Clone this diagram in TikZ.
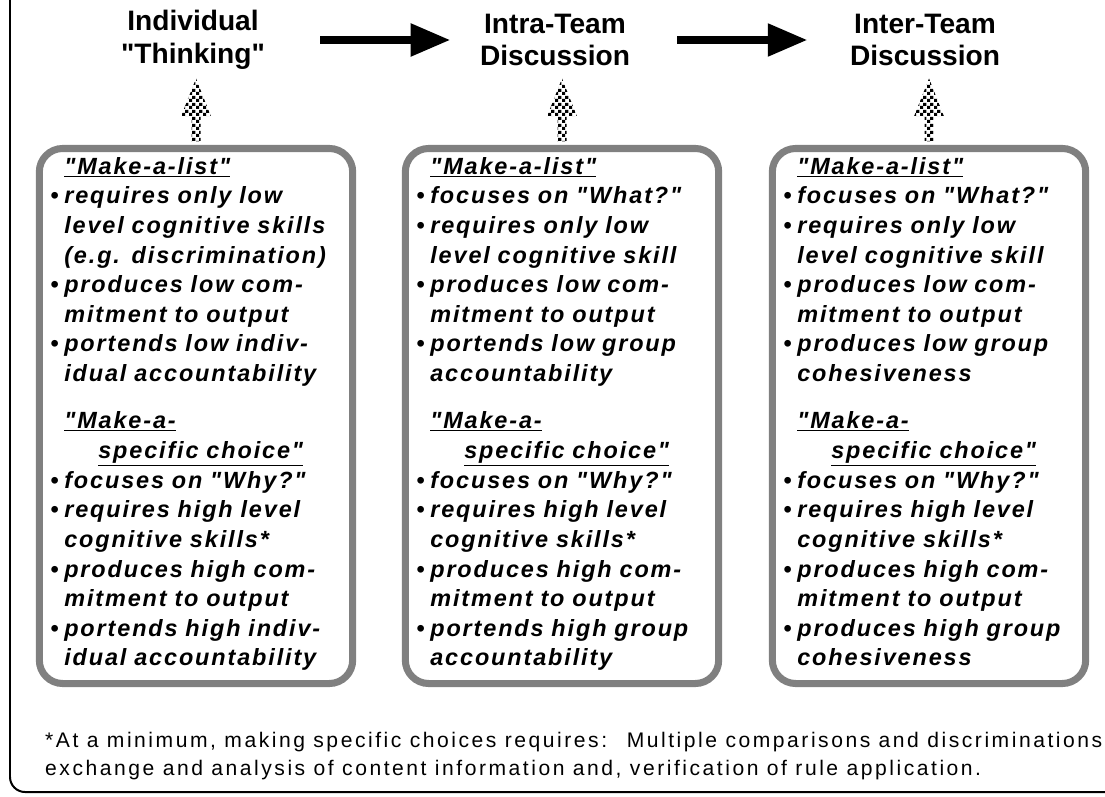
\documentclass[tikz,border=0pt]{standalone}
\usepackage{fontspec}
\setmainfont{Liberation Sans}
\newfontfamily\listfont[LetterSpace=8]{Liberation Sans}
\newfontfamily\notefont[LetterSpace=12]{Liberation Sans}
\usetikzlibrary{arrows.meta,patterns}

\definecolor{panelgray}{HTML}{808080}

\pgfdeclarepatternformonly{checks}{\pgfpointorigin}{\pgfqpoint{6pt}{6pt}}{\pgfqpoint{6pt}{6pt}}{%
  \pgfpathrectangle{\pgfpointorigin}{\pgfqpoint{3pt}{3pt}}%
  \pgfpathrectangle{\pgfqpoint{3pt}{3pt}}{\pgfqpoint{3pt}{3pt}}%
  \pgfusepath{fill}}

\newcommand{\bul}{\leavevmode\llap{\textbullet\hspace{5pt}}}
\newcommand{\hd}[1]{\underline{#1}}
% checkered arrow on top of a panel
\newcommand{\riser}[1]{%
  \fill[pattern=checks,shift={(#1.north)}] (-4.5,-3.5) -- (-4.5,-28.5) -- (-15,-28.5)
    -- (0,-66.5) -- (15,-28.5) -- (4.5,-28.5) -- (4.5,-3.5) -- cycle;}

\begin{document}
\begin{tikzpicture}[x=0.03cm,y=-0.03cm,
  stage/.style={align=center,inner sep=0pt,font=\fontsize{24}{28}\selectfont\bfseries},
  panel/.style={draw=panelgray,line width=6pt,fill=white,rounded corners=0.7cm,
    minimum width=9.4cm,minimum height=16.05cm,inner xsep=0.75cm,inner ysep=0pt,
    text width=7.9cm,align=left,font=\listfont\fontsize{20}{25.3}\selectfont\bfseries\itshape},
  flow/.style={line width=7pt,-{Triangle[length=34pt,width=26.5pt]}},
  note/.style={align=left,inner sep=0pt,anchor=west,font=\notefont\fontsize{18}{24}\selectfont}]

\useasboundingbox (0,0) rectangle (1105,797);
\clip (0,0) rectangle (1105,797);

% frame
\draw[line width=1.7pt,rounded corners=0.45cm] (10,-30) -- (10,792) -- (1140,792);

% stages
\node[stage] (hdA) at (193,40) {Individual\\\textquotedbl Thinking\textquotedbl};
\node[stage] (hdB) at (555,40) {Intra-Team\\Discussion};
\node[stage] (hdC) at (925,40) {Inter-Team\\Discussion};

\draw[flow,shorten <=47pt,shorten >=25pt] (hdA) -- (hdB);
\draw[flow,shorten <=40pt,shorten >=36pt] (hdB) -- (hdC);

% panels
\node[panel] (boxA) at (196,416) {%
\hd{"Make-a-list"}\\
\bul requires only low\\
level cognitive skills\\
(e.g. discrimination)\\
\bul produces low com-\\
mitment to output\\
\bul portends low indiv-\\
idual accountability\\[15pt]
\hd{"Make-a-}\\
\hspace{29pt}\hd{specific choice"}\\
\bul focuses on "Why?"\\
\bul requires high level\\
cognitive skills*\\
\bul produces high com-\\
mitment to output\\
\bul portends high indiv-\\
idual accountability\strut};

\node[panel] (boxB) at (562,416) {%
\hd{"Make-a-list"}\\
\bul focuses on "What?"\\
\bul requires only low\\
level cognitive skill\\
\bul produces low com-\\
mitment to output\\
\bul portends low group\\
accountability\\[15pt]
\hd{"Make-a-}\\
\hspace{29pt}\hd{specific choice"}\\
\bul focuses on "Why?"\\
\bul requires high level\\
cognitive skills*\\
\bul produces high com-\\
mitment to output\\
\bul portends high group\\
accountability\strut};

\node[panel] (boxC) at (929,416) {%
\hd{"Make-a-list"}\\
\bul focuses on "What?"\\
\bul requires only low\\
level cognitive skill\\
\bul produces low com-\\
mitment to output\\
\bul produces low group\\
cohesiveness\\[15pt]
\hd{"Make-a-}\\
\hspace{29pt}\hd{specific choice"}\\
\bul focuses on "Why?"\\
\bul requires high level\\
cognitive skills*\\
\bul produces high com-\\
mitment to output\\
\bul produces high group\\
cohesiveness\strut};

\riser{boxA}
\riser{boxB}
\riser{boxC}

% footnote
\node[note] (foot) at (45,756) {*At a minimum, making specific choices requires: \ Multiple comparisons and discriminations\\
exchange and analysis of content information and, verification of rule application.};

\end{tikzpicture}
\end{document}
